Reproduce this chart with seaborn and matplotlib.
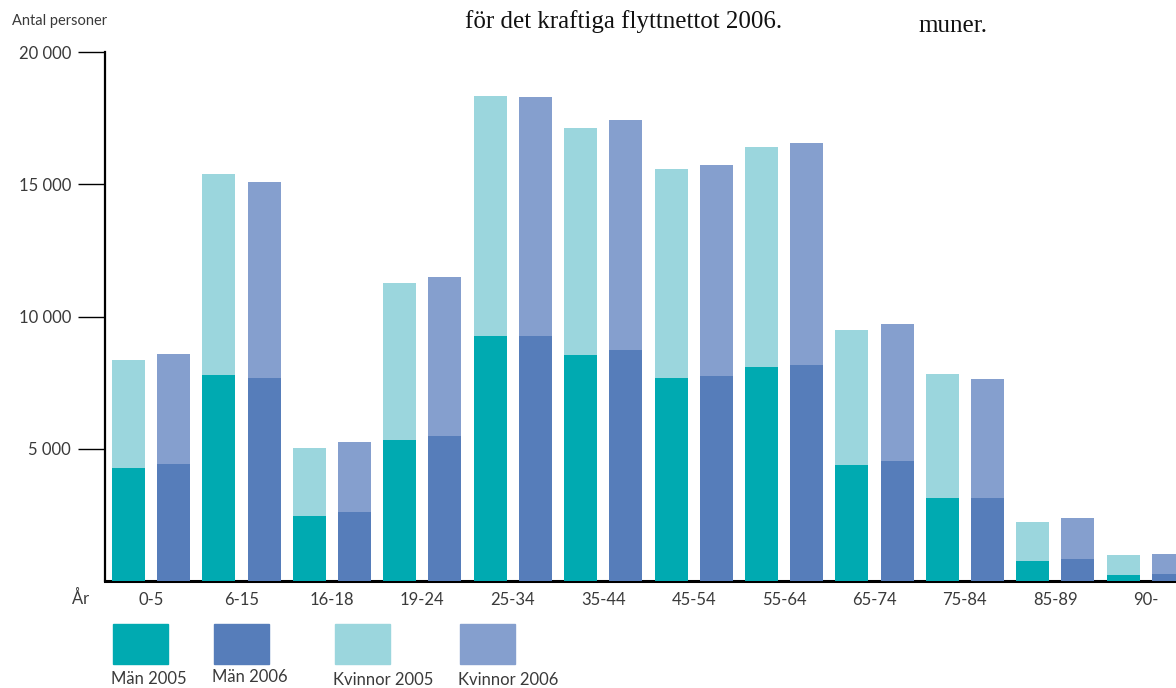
import pandas as pd
import matplotlib
matplotlib.use('Agg')
import matplotlib.pyplot as plt
import seaborn as sns
from matplotlib.patches import Rectangle

# åldersgrupper
grupper = ['0-5', '6-15', '16-18', '19-24', '25-34', '35-44',
           '45-54', '55-64', '65-74', '75-84', '85-89', '90-']

# män och totalt (män + kvinnor) per år
man_2005 = [4270, 7790, 2460, 5330, 9260, 8540, 7670, 8090, 4390, 3140, 760, 230]
man_2006 = [4420, 7680, 2610, 5480, 9260, 8730, 7750, 8170, 4540, 3140, 830, 265]
tot_2005 = [8360, 15390, 5030, 11270, 18330, 17120, 15570, 16400, 9490, 7820, 2230, 980]
tot_2006 = [8580, 15090, 5260, 11490, 18300, 17430, 15720, 16560, 9720, 7640, 2380, 1020]

c_man05 = '#00aab1'
c_man06 = '#567dba'
c_kv05 = '#9bd6dd'
c_kv06 = '#859fce'
textfarg = '#3a3a3a'

rader = []
for i, g in enumerate(grupper):
    rader.append({'stapel': g + ' 2005', 'ar': '2005', 'man': man_2005[i], 'tot': tot_2005[i]})
    rader.append({'stapel': g + ' 2006', 'ar': '2006', 'man': man_2006[i], 'tot': tot_2006[i]})
df = pd.DataFrame(rader)

sns.set_style('white')
plt.rcParams['font.family'] = ['Lato', 'DejaVu Sans']

fig = plt.figure(figsize=(11.76, 6.88), dpi=100)
ax = fig.add_axes([0.0893, 0.1555, 0.9107, 0.7689])

sns.barplot(data=df, x='stapel', y='tot', hue='ar', dodge=False, width=0.73,
            palette={'2005': c_kv05, '2006': c_kv06}, saturation=1,
            linewidth=0, legend=False, ax=ax, zorder=3)
sns.barplot(data=df, x='stapel', y='man', hue='ar', dodge=False, width=0.73,
            palette={'2005': c_man05, '2006': c_man06}, saturation=1,
            linewidth=0, legend=False, ax=ax, zorder=3)

ax.set_xlim(-0.52, 23.17)
ax.set_ylim(0, 20000)
ax.set_xlabel('')
ax.set_ylabel('')

ax.set_xticks([2 * i + 0.5 for i in range(len(grupper))])
ax.set_xticklabels(grupper, fontsize=12, color=textfarg)
ax.tick_params(axis='x', length=0, pad=8)

ax.set_yticks([5000, 10000, 15000, 20000])
ax.set_yticklabels(['5 000', '10 000', '15 000', '20 000'], fontsize=12, color=textfarg)
ax.tick_params(axis='y', left=True, length=19.5, width=1.0, color='black', pad=5)

for s in ['top', 'right']:
    ax.spines[s].set_visible(False)
ax.spines['left'].set_linewidth(1.6)
ax.spines['left'].set_color('black')
ax.spines['bottom'].set_linewidth(2.2)
ax.spines['bottom'].set_color('black')
ax.spines['bottom'].set_zorder(1)
ax.grid(False)

fig.text(12 / 1176, 1 - 21 / 688, 'Antal personer', fontsize=10.5, color=textfarg,
         va='center', ha='left')
fig.text(72 / 1176, 1 - 598 / 688, 'År', fontsize=12, color=textfarg,
         va='center', ha='left')

# legend med rutor och text under
leg = [('Män 2005', c_man05, 113, 679), ('Män 2006', c_man06, 214, 677),
       ('Kvinnor 2005', c_kv05, 335, 680), ('Kvinnor 2006', c_kv06, 460, 680)]
for namn, farg, x0, ty in leg:
    fig.patches.append(Rectangle((x0 / 1176, 1 - 664 / 688), 55 / 1176, 40 / 688,
                                 transform=fig.transFigure, color=farg))
    fig.text((x0 - 2) / 1176, 1 - ty / 688, namn, fontsize=12, color=textfarg,
             va='center', ha='left')

# brödtext ovanför diagrammet
fig.text(465 / 1176, 1 - 22 / 688, 'för det kraftiga flyttnettot 2006.',
         fontsize=18, family='Liberation Serif', color='#111111', va='center', ha='left')
fig.text(918 / 1176, 1 - 26 / 688, 'muner.',
         fontsize=18, family='Liberation Serif', color='#111111', va='center', ha='left')

fig.savefig('out.png', dpi=100)
